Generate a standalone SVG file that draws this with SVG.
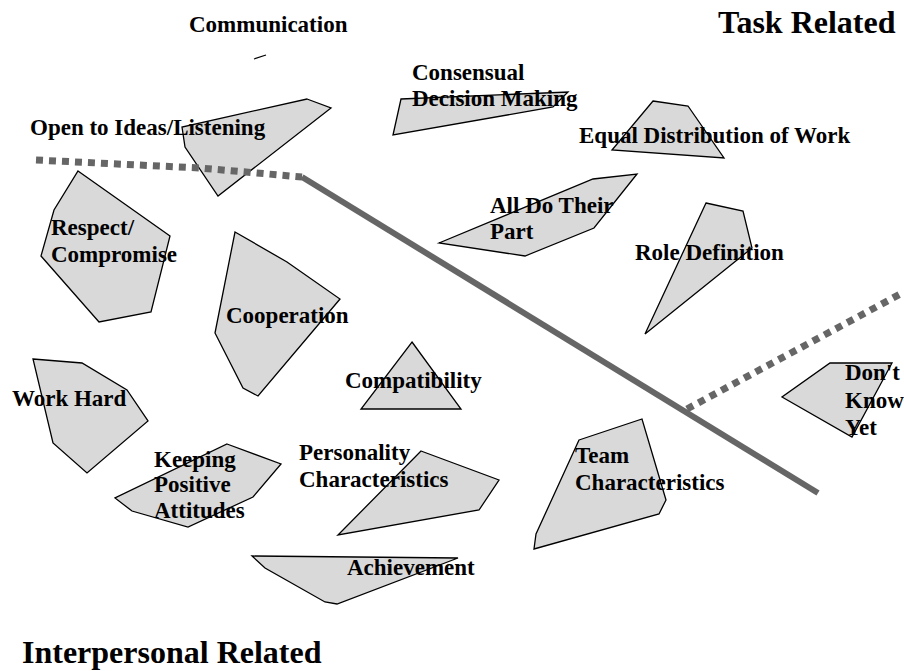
<svg xmlns="http://www.w3.org/2000/svg" xmlns:xlink="http://www.w3.org/1999/xlink" width="904" height="671" viewBox="0 0 904 671">
<style>
.bg{fill:#ffffff}
.fill{fill:#d9d9d9;stroke:none}
.edge{fill:none;stroke:#000000;stroke-width:1.3;stroke-linejoin:miter}
.lbl{font-family:"Liberation Serif","Times New Roman",serif;font-weight:bold;font-size:23px;fill:#000000}
.title{font-family:"Liberation Serif","Times New Roman",serif;font-weight:bold;font-size:32px;fill:#000000}
.dots{fill:none;stroke:#666666;stroke-width:7;stroke-dasharray:7 6}
.solid{fill:none;stroke:#666666;stroke-width:6}
</style>
<defs>
<polygon id="p-open" points="307,99 331,108 218,196 185,147 182,127"/>
<polygon id="p-cons" points="401,99 568,92 553,107 393,135"/>
<polygon id="p-equal" points="653,101 688,106 724,158 612,150"/>
<polygon id="p-all" points="439,243 593,179 637,174 594,228 525,256"/>
<polygon id="p-role" points="706,203 743,211 752,248 645,334"/>
<polygon id="p-resp" points="78,171 170,236 151,312 99,322 41,256 54,210"/>
<polygon id="p-coop" points="235,232 287,262 340,299 258,396 243,388 215,333"/>
<polygon id="p-compat" points="412,342 461,409 361,409"/>
<polygon id="p-work" points="33,359 82,363 127,390 148,421 87,473 53,443"/>
<polygon id="p-keep" points="227,444 281,464 253,497 188,527 132,511 115,498"/>
<polygon id="p-pers" points="421,451 499,480 479,510 338,535"/>
<polygon id="p-ach" points="252,556 458,558 337,604 325,602 265,568"/>
<polygon id="p-team" points="579,440 642,419 666,500 659,514 534,549 536,534"/>
<polygon id="p-dont" points="830,363 892,363 852,437 782,397"/>
</defs>
<rect class="bg" x="0" y="0" width="904" height="671"/>

<g id="title-task"><text class="title" x="718" y="33">Task Related</text></g>
<g id="title-interpersonal"><text class="title" x="22" y="663">Interpersonal Related</text></g>

<g id="node-communication">
<line class="edge" x1="254" y1="59" x2="266" y2="55"/>
<text class="lbl" x="189" y="32">Communication</text>
</g>
<g id="node-open">
<use xlink:href="#p-open" class="fill"/>
<text class="lbl" x="30" y="135">Open to Ideas/Listening</text>
<use xlink:href="#p-open" class="edge"/>
</g>
<g id="node-consensual">
<use xlink:href="#p-cons" class="fill"/>
<text class="lbl" x="412" y="80">Consensual</text>
<text class="lbl" x="412" y="106">Decision Making</text>
<use xlink:href="#p-cons" class="edge"/>
</g>
<g id="node-equal">
<use xlink:href="#p-equal" class="fill"/>
<text class="lbl" x="579" y="143">Equal Distribution of Work</text>
<use xlink:href="#p-equal" class="edge"/>
</g>
<g id="node-all">
<use xlink:href="#p-all" class="fill"/>
<text class="lbl" x="490" y="213">All Do Their</text>
<text class="lbl" x="490" y="239">Part</text>
<use xlink:href="#p-all" class="edge"/>
</g>
<g id="node-role">
<use xlink:href="#p-role" class="fill"/>
<text class="lbl" x="635" y="260">Role Definition</text>
<use xlink:href="#p-role" class="edge"/>
</g>
<g id="node-respect">
<use xlink:href="#p-resp" class="fill"/>
<text class="lbl" x="51" y="235">Respect/</text>
<text class="lbl" x="51" y="262">Compromise</text>
<use xlink:href="#p-resp" class="edge"/>
</g>
<g id="node-cooperation">
<use xlink:href="#p-coop" class="fill"/>
<text class="lbl" x="226" y="323">Cooperation</text>
<use xlink:href="#p-coop" class="edge"/>
</g>
<g id="node-compatibility">
<use xlink:href="#p-compat" class="fill"/>
<text class="lbl" x="345" y="388">Compatibility</text>
<use xlink:href="#p-compat" class="edge"/>
</g>
<g id="node-work">
<use xlink:href="#p-work" class="fill"/>
<text class="lbl" x="12" y="406">Work Hard</text>
<use xlink:href="#p-work" class="edge"/>
</g>
<g id="node-keeping">
<use xlink:href="#p-keep" class="fill"/>
<text class="lbl" x="154" y="467">Keeping</text>
<text class="lbl" x="154" y="492">Positive</text>
<text class="lbl" x="154" y="518">Attitudes</text>
<use xlink:href="#p-keep" class="edge"/>
</g>
<g id="node-personality">
<use xlink:href="#p-pers" class="fill"/>
<text class="lbl" x="299" y="460">Personality</text>
<text class="lbl" x="299" y="487">Characteristics</text>
<use xlink:href="#p-pers" class="edge"/>
</g>
<g id="node-achievement">
<use xlink:href="#p-ach" class="fill"/>
<text class="lbl" x="347" y="575">Achievement</text>
<use xlink:href="#p-ach" class="edge"/>
</g>
<g id="node-team">
<use xlink:href="#p-team" class="fill"/>
<text class="lbl" x="575" y="463">Team</text>
<text class="lbl" x="575" y="490">Characteristics</text>
<use xlink:href="#p-team" class="edge"/>
</g>
<g id="node-dont">
<use xlink:href="#p-dont" class="fill"/>
<text class="lbl" x="845" y="380">Don't</text>
<text class="lbl" x="845" y="408">Know</text>
<text class="lbl" x="845" y="435">Yet</text>
<use xlink:href="#p-dont" class="edge"/>
</g>

<g id="connectors">
<polyline class="dots" points="36,160 200,168 302,177"/>
<line class="solid" x1="302" y1="177" x2="818" y2="493"/>
<line class="dots" x1="687" y1="409" x2="904" y2="292"/>
</g>
</svg>
